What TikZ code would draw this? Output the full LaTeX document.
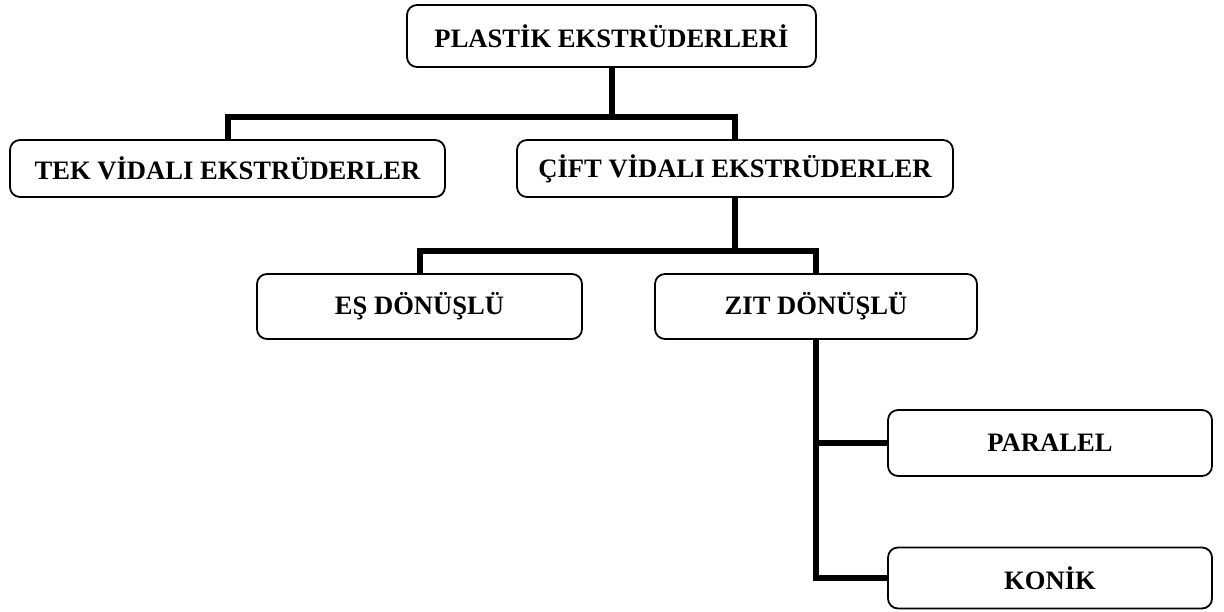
\documentclass[tikz,border=0pt]{standalone}
\usepackage{fontspec}
\setmainfont{Liberation Serif}
\usetikzlibrary{positioning}

\tikzset{
  kutu/.style={draw, line width=0.9pt, rounded corners=5pt, inner sep=0pt,
    font=\fontsize{13.3}{16}\selectfont\bfseries},
  hat/.style={line width=3pt, line join=miter}
}

\begin{document}
\begin{tikzpicture}[x=0.5pt, y=-0.5pt]
  \useasboundingbox (0,0) rectangle (1224,611);

  % Boxes
  \node[kutu, minimum width=204.5pt, minimum height=31pt] (ana) at (611.5,36) {PLASTİK EKSTRÜDERLERİ};
  \node[kutu, minimum width=217.5pt, minimum height=28.5pt] (tek) at (227.5,168.5) {TEK VİDALI EKSTRÜDERLER};
  \node[kutu, minimum width=218pt, minimum height=28.5pt] (cift) at (735,168.5) {ÇİFT VİDALI EKSTRÜDERLER};
  \node[kutu, minimum width=162.5pt, minimum height=32.5pt] (es) at (419.5,306.5) {EŞ DÖNÜŞLÜ};
  \node[kutu, minimum width=161pt, minimum height=32.5pt] (zit) at (816,306.5) {ZIT DÖNÜŞLÜ};
  \node[kutu, minimum width=162pt, minimum height=33pt] (paralel) at (1050,443) {PARALEL};
  \node[kutu, minimum width=162pt, minimum height=30.5pt] (konik) at (1050,578) {KONİK};

  % Junctions
  \coordinate (j1) at (611.5,116.5);
  \coordinate (j2) at (735,251);

  % Connectors
  \draw[hat] (ana.south) -- (j1);
  \draw[hat] (tek.north) |- (j1) -| (cift.north);
  \draw[hat] (cift.south) -- (j2);
  \draw[hat] (es.north) |- (j2) -| (zit.north);
  \draw[hat] (zit.south) |- (paralel.west);
  \draw[hat] (zit.south) |- (konik.west);
\end{tikzpicture}
\end{document}
